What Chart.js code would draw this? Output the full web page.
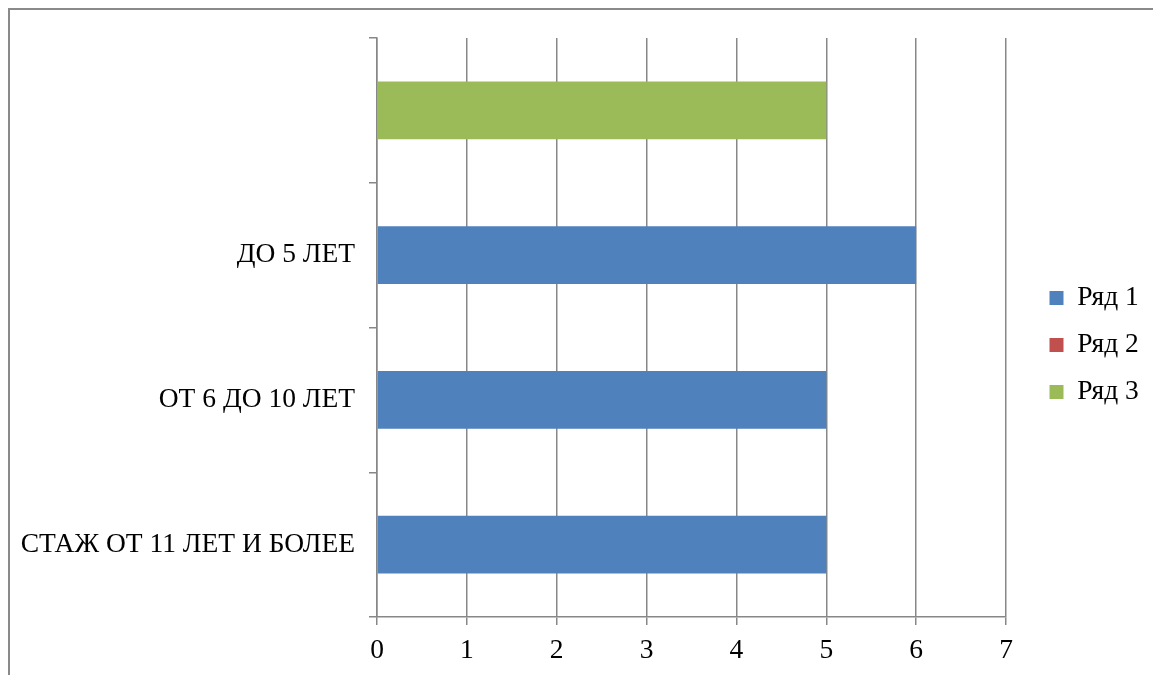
<!DOCTYPE html>
<html>
<head>
<meta charset="utf-8">
<script src="https://cdn.jsdelivr.net/npm/chart.js@4/dist/chart.umd.min.js"></script>
<style>
  html, body { margin: 0; padding: 0; background: #fff; overflow: hidden; }
  #frame { position: absolute; left: 8px; top: 8px; width: 1400px; height: 900px; border: 2px solid #8a8a8a; box-sizing: border-box; }
  #wrap { position: absolute; left: 0; top: 0; width: 1153px; height: 675px; }
</style>
</head>
<body>
<div id="frame"></div>
<div id="wrap"><canvas id="chart"></canvas></div>
<script>
// categories top to bottom (the top one has no name)
const categories = ['', 'ДО 5 ЛЕТ', 'ОТ 6 ДО 10 ЛЕТ', 'СТАЖ ОТ 11 ЛЕТ И БОЛЕЕ'];
const ryad1 = [null, 6, 5, 5];
const ryad2 = [null, null, null, null];
const ryad3 = [5, null, null, null];
const xTicksMax = 7;

const gridColor = '#878787';

Chart.defaults.font.family = '"Liberation Serif", "Times New Roman", serif';
Chart.defaults.font.size = 27.5;
Chart.defaults.color = '#000';

// fixed legend width on the right, like the Excel layout
const LegendEl = Chart.Legend._element;
const origFit = LegendEl.prototype.fit;
LegendEl.prototype.fit = function () {
  origFit.call(this);
  if (!this.isHorizontal()) this.width = 147;
};

const shiftLegend = {
  id: 'shiftLegend',
  afterLayout(chart) {
    const lg = chart.legend;
    lg.left += 24;
    lg.right += 24;
    lg.top -= 6.5;
    lg.bottom -= 6.5;
  }
};

const ctx = document.getElementById('chart').getContext('2d');
const chart = new Chart(ctx, {
  type: 'bar',
  data: {
    labels: categories,
    datasets: [
      { label: 'Ряд 1', data: ryad1, backgroundColor: '#4F81BD' },
      { label: 'Ряд 2', data: ryad2, backgroundColor: '#C0504D' },
      { label: 'Ряд 3', data: ryad3, backgroundColor: '#9BBB59' }
    ]
  },
  options: {
    indexAxis: 'y',
    responsive: true,
    maintainAspectRatio: false,
    animation: false,
    grouped: false,
    categoryPercentage: 1,
    barPercentage: 0.4,
    layout: { padding: { top: 38, left: 10, right: 0, bottom: 10 } },
    scales: {
      x: {
        min: 0,
        max: xTicksMax,
        ticks: { stepSize: 1, padding: 9 },
        grid: { color: gridColor, lineWidth: 1.5, tickLength: 8 },
        border: { color: gridColor, width: 1.5 },
        afterFit(scale) { scale.height = 48; }
      },
      y: {
        ticks: { padding: 14 },
        grid: { offset: true, drawOnChartArea: false, color: gridColor, lineWidth: 1.5, tickLength: 8 },
        border: { color: gridColor, width: 1.5 },
        afterFit(scale) { scale.width = 367; }
      }
    },
    plugins: {
      legend: {
        position: 'right',
        labels: { boxWidth: 14, boxHeight: 14, padding: 19.5, color: '#000' }
      },
      tooltip: { enabled: false }
    }
  },
  plugins: [shiftLegend]
});
</script>
</body>
</html>
